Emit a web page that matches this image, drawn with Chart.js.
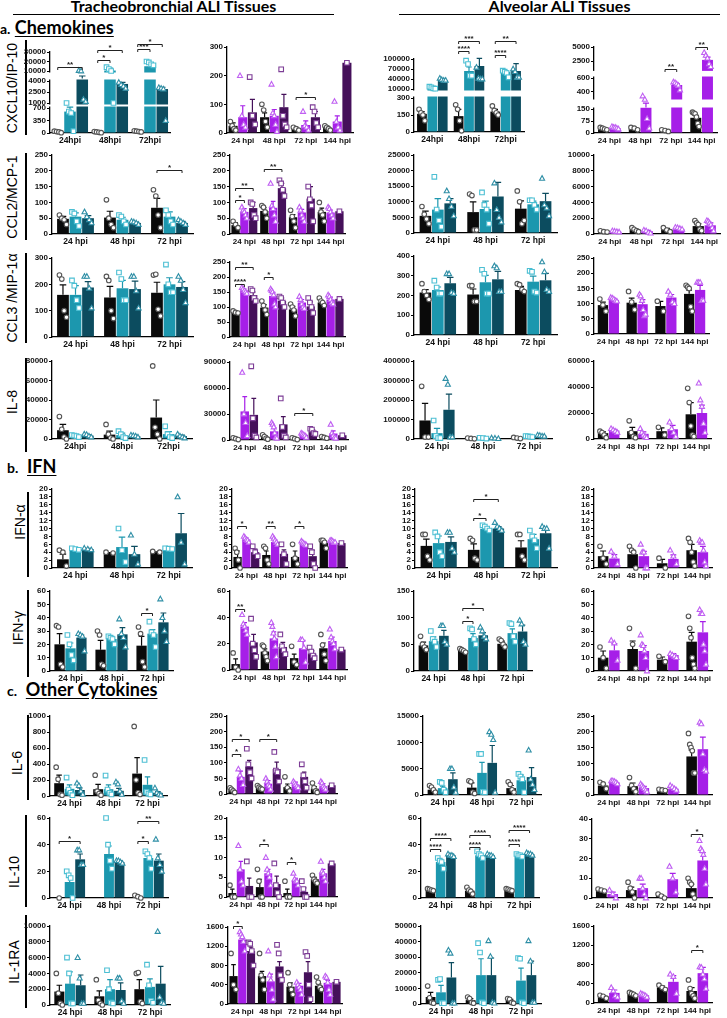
<!DOCTYPE html>
<html>
<head>
<meta charset="utf-8">
<script src="https://cdn.jsdelivr.net/npm/chart.js@4.4.0/dist/chart.umd.min.js"></script>
<style>
  body { margin: 0; background: #fff; width: 727px; height: 1018px; position: relative; overflow: hidden; }
  canvas { position: absolute; }
  .ttl { position: absolute; font: bold 16px Lato, "Liberation Sans", sans-serif; text-align: center; line-height: 16px; border-bottom: 1.5px solid #000; }
  .sec { position: absolute; font: bold 18px Lato, "Liberation Sans", sans-serif; line-height: 18px; white-space: nowrap; }
  .sec u { text-underline-offset: 2px; }
  .rowlab { position: absolute; width: 120px; height: 16px; line-height: 16px; text-align: center; font: 14px "Liberation Sans", Arial, sans-serif; transform: rotate(-90deg); white-space: nowrap; }
  .vline { position: absolute; width: 1.5px; background: #000; }
</style>
</head>
<body>
<div class="ttl" style="left:13px;top:-2px;width:321px">Tracheobronchial ALI Tissues</div>
<div class="ttl" style="left:399px;top:-2px;width:321px">Alveolar ALI Tissues</div>
<div class="sec" style="left:0px;top:18px"><span style="font-size:14px">a.</span> <u>Chemokines</u></div>
<div class="sec" style="left:7px;top:457px"><span style="font-size:14px">b.</span>&nbsp; <u>IFN</u></div>
<div class="sec" style="left:7px;top:680px"><span style="font-size:14px">c.</span>&nbsp; <u>Other Cytokines</u></div>

<script>
// ---- categories ----
const HPI3 = ['24 hpi', '48 hpi', '72 hpi'];
const HPI3_TIGHT = ['24hpi', '48hpi', '72hpi'];
const HPI4 = ['24 hpi', '48 hpi', '72 hpi', '144 hpi'];

// ---- CXCL10/IP-10 ----
const CXCL10_TB1_MEAN = [[30, 30, 40], [600, 10500, 15000], [5500, 3600, 2900]];
const CXCL10_TB1_SEM = [[10, 10, 10], [150, 2500, 2000], [1500, 200, 250]];
const CXCL10_TB1_PTS = [
  [[50, 40, 30, 10], [40, 30, 20, 10], [60, 50, 40, 30]],
  [[1000, 600, 560, 50], [14000, 12000, 10000, 1000], [20000, 19000, 17000, 16000]],
  [[10500, 10000, 1500, 1200], [3800, 3500, 3300, 3000], [3100, 3000, 2900, 350]]
];
const CXCL10_TB1_SIG = [[0, 0, 2, 14000, '**'], [1, 0, 1, 21600, '*'], [1, 0, 2, 32000, '*'], [2, 0, 1, 33000, '***'], [2, 0, 2, 38000, '*']];
const CXCL10_TB1_TICKS = [0, 350, 700, 1000, 2500, 4000, 10000, 20000, 30000];

const CXCL10_TB2_MEAN = [[25, 55, 15, 18], [55, 60, 28, 40], [72, 90, 55, 245]];
const CXCL10_TB2_SEM = [[10, 15, 5, 5], [40, 22, 14, 20], [45, 45, 20, 0]];
const CXCL10_TB2_PTS = [
  [[40, 25, 15, 10], [100, 80, 40, 20], [20, 15, 10], [25, 20, 15, 10]],
  [[200, 60, 30, 20], [170, 70, 60, 30, 5], [75, 25, 20, 10], [110, 40, 20, 10]],
  [[195, 60, 30], [222, 60, 30, 20], [90, 75, 35, 20], [245]]
];
const CXCL10_TB2_SIG = [[2, 0, 2, 125, '*']];

const CXCL10_AL1_MEAN = [[160, 140, 180], [11000, 64000, 61000], [37000, 79000, 64000]];
const CXCL10_AL1_SEM = [[20, 60, 20], [2000, 12000, 4000], [2000, 23000, 22000]];
const CXCL10_AL1_PTS = [
  [[200, 170, 150, 100], [240, 200, 100, 10], [230, 190, 170, 150]],
  [[17000, 15000, 12000, 11000], [95000, 85000, 50000, 50000], [65000, 62000, 58000, 45000]],
  [[42000, 38000, 36000, 36000], [75000, 42000, 40000, 40000], [70000, 62000, 45000, 45000]]
];
const CXCL10_AL1_SIG = [[1, 0, 1, 124000, '****'], [1, 0, 2, 154000, '***'], [2, 0, 1, 112000, '****'], [2, 0, 2, 154000, '**']];
const CXCL10_AL1_TICKS = [0, 150, 300, 10000, 40000, 70000, 100000];

const CXCL10_AL2_MEAN = [[25, 25, 15, 95], [30, 170, 495, 2700]];
const CXCL10_AL2_SEM = [[5, 5, 3, 15], [5, 60, 20, 500]];
const CXCL10_AL2_PTS = [
  [[35, 30, 25, 20], [35, 30, 20], [20, 15, 10], [130, 125, 120, 100, 60, 40]],
  [[40, 35, 35, 30, 25], [330, 280, 90, 30], [540, 530, 510, 490, 420], [4000, 3500, 3000, 2000, 1500]]
];
const CXCL10_AL2_SIG = [[2, 0, 1, 1050, '**'], [3, 0, 1, 5000, '**']];
const CXCL10_AL2_TICKS = [0, 75, 150, 400, 600, 2500, 5000];

// ---- CCL2/MCP-1 ----
const CCL2_TB1_MEAN = [[48, 52, 83], [55, 45, 55], [50, 35, 35]];
const CCL2_TB1_SEM = [[8, 20, 30], [12, 8, 15], [8, 3, 5]];
const CCL2_TB1_PTS = [
  [[60, 50, 45, 30], [108, 50, 30, 20], [140, 120, 60, 20]],
  [[70, 65, 40, 25], [60, 55, 40, 30], [75, 60, 40, 30]],
  [[70, 55, 45, 35], [40, 38, 35, 30], [45, 40, 35, 30]]
];
const CCL2_TB1_SIG = [[2, 0, 2, 203, '*']];

const CCL2_TB2_MEAN = [[28, 73, 53, 70], [70, 83, 68, 68], [82, 145, 112, 72]];
const CCL2_TB2_SEM = [[8, 10, 8, 12], [10, 20, 10, 8], [18, 15, 38, 0]];
const CCL2_TB2_PTS = [
  [[40, 30, 20], [90, 85, 70, 50], [75, 55, 40, 20], [100, 70, 60, 40]],
  [[85, 75, 70, 60, 50], [160, 90, 80, 60, 40], [85, 75, 60, 50, 40], [85, 80, 70, 60, 50]],
  [[100, 95, 60, 50], [170, 160, 140, 120], [150, 110, 90, 40], [72]]
];
const CCL2_TB2_SIG = [[0, 0, 1, 109, '*'], [0, 0, 2, 144, '**'], [1, 0, 2, 206, '**']];

const CCL2_AL1_MEAN = [[5500, 6700, 7800], [7500, 7700, 9200], [9500, 11700, 10200]];
const CCL2_AL1_SEM = [[1500, 3300, 2500], [3500, 2500, 1000], [1500, 4500, 2500]];
const CCL2_AL1_PTS = [
  [[8500, 6000, 4500, 3000], [12500, 12000, 1000, 1000], [13500, 10000, 3000, 4000]],
  [[18000, 7500, 4000, 2000], [13000, 9000, 7500, 3000], [10500, 10500, 9000, 7500]],
  [[13500, 11000, 8500, 5500], [16000, 7500, 5000, 3500], [17500, 9000, 8000, 5500]]
];

const CCL2_AL2_MEAN = [[300, 500, 550, 1000], [300, 350, 650, 1100]];
const CCL2_AL2_SEM = [[50, 150, 150, 300], [50, 100, 100, 300]];
const CCL2_AL2_PTS = [
  [[400, 300, 250], [800, 600, 400, 300], [800, 500, 300], [1700, 1400, 1200, 600, 400]],
  [[400, 350, 300, 250], [500, 400, 200, 100], [850, 800, 700, 600], [1700, 1600, 1400, 1200, 800, 400]]
];

// ---- CCL3/MIP-1a ----
const CCL3_TB1_MEAN = [[160, 150, 168], [160, 185, 200], [188, 182, 190]];
const CCL3_TB1_SEM = [[38, 42, 40], [35, 30, 25], [22, 30, 20]];
const CCL3_TB1_PTS = [
  [[235, 220, 100, 75], [230, 215, 100, 70], [235, 238, 105, 80]],
  [[215, 195, 140, 110], [245, 220, 140, 140], [275, 200, 170, 170]],
  [[230, 230, 185, 110], [230, 230, 175, 110], [230, 215, 180, 130]]
];

const CCL3_TB2_MEAN = [[82, 98, 92, 115], [155, 137, 115, 125], [140, 120, 102, 127]];
const CCL3_TB2_SEM = [[5, 10, 10, 5], [5, 12, 10, 8], [10, 10, 15, 0]];
const CCL3_TB2_PTS = [
  [[87, 82, 80], [120, 105, 90, 75], [110, 100, 90, 70], [130, 120, 115, 105]],
  [[165, 160, 155, 150, 145], [160, 155, 150, 140, 110, 100], [135, 125, 110, 100, 95], [140, 135, 125, 115, 110]],
  [[160, 155, 130, 120], [135, 130, 115, 100], [130, 115, 100, 80], [127]]
];
const CCL3_TB2_SIG = [[0, 0, 1, 177, '****'], [0, 0, 2, 233, '**'], [1, 0, 1, 200, '*']];

const CCL3_AL1_MEAN = [[215, 205, 228], [228, 267, 270], [262, 282, 277]];
const CCL3_AL1_SEM = [[15, 28, 18], [15, 35, 28], [30, 40, 35]];
const CCL3_AL1_PTS = [
  [[260, 220, 200, 180], [250, 250, 170, 170], [260, 255, 230, 220]],
  [[275, 240, 210, 210], [330, 310, 210, 210], [325, 320, 220, 215]],
  [[310, 310, 215, 210], [350, 340, 220, 220], [370, 320, 230, 220]]
];

const CCL3_AL2_MEAN = [[95, 103, 92, 132], [112, 98, 120, 145]];
const CCL3_AL2_SEM = [[10, 15, 15, 12], [4, 15, 10, 15]];
const CCL3_AL2_PTS = [
  [[115, 95, 75], [140, 105, 80], [108, 75], [160, 155, 150, 90, 75]],
  [[120, 118, 115, 110, 108], [130, 125, 110, 80, 60, 65], [140, 130, 105, 100], [170, 170, 170, 110, 110]]
];

// ---- IL-8 ----
const IL8_TB1_MEAN = [[9000, 4500, 22000], [3000, 4000, 5000], [3500, 3000, 3000]];
const IL8_TB1_SEM = [[6000, 3500, 18000], [800, 2000, 2500], [800, 1000, 1000]];
const IL8_TB1_PTS = [
  [[23000, 10000, 2000, 0], [15000, 5000, 1000, 0], [75000, 12000, 5000, 0]],
  [[4000, 3500, 3000, 2000], [8000, 5000, 2000, 1000], [13000, 5000, 2000, 1000]],
  [[5000, 4500, 3000, 2000], [4000, 3500, 3000, 2000], [5000, 3000, 2000, 1000]]
];

const IL8_TB2_MEAN = [[1500, 3500, 1500, 2500], [33000, 10000, 6000, 7500], [29000, 18000, 10000, 5500]];
const IL8_TB2_SEM = [[500, 1500, 500, 800], [17000, 4000, 1500, 3000], [19000, 9000, 2000, 0]];
const IL8_TB2_PTS = [
  [[2500, 1500, 500], [6000, 4000, 2000, 1000], [2500, 1500, 500], [4000, 3000, 2000]],
  [[78000, 30000, 20000, 5000], [20000, 18000, 15000, 8000, 3000, 2000], [8000, 7000, 6000, 5000, 3000], [18000, 8000, 5000, 3000, 2000]],
  [[85000, 25000, 5000, 3000], [48000, 15000, 5000, 3000], [13000, 12000, 8000, 7000], [5500]]
];
const IL8_TB2_SIG = [[2, 0, 2, 31000, '*']];

const IL8_AL1_MEAN = [[95000, 3000, 5000], [30000, 3000, 13000], [150000, 3000, 17000]];
const IL8_AL1_SEM = [[88000, 1000, 1000], [25000, 1000, 3000], [80000, 1000, 3000]];
const IL8_AL1_PTS = [
  [[270000, 10000, 10000], [5000, 3000, 1000], [8000, 5000, 2000]],
  [[95000, 15000, 5000, 5000], [6000, 5000, 2000], [15000, 14000, 12000, 10000]],
  [[310000, 280000, 10000, 10000], [5000, 4000, 2000], [20000, 18000, 15000, 14000]]
];

const IL8_AL2_MEAN = [[4500, 6000, 6000, 19000], [6500, 4000, 7500, 20000]];
const IL8_AL2_SEM = [[1000, 3000, 2500, 9000], [1000, 1500, 3000, 6000]];
const IL8_AL2_PTS = [
  [[6000, 5000, 3000, 1000], [14000, 5000, 2000, 1000], [9000, 3000], [39000, 28000, 10000, 3000, 2000]],
  [[8000, 7000, 6000, 5000], [8000, 5000, 3000, 2000, 1000], [13000, 8000, 5000, 2000], [43000, 30000, 25000, 12000, 5000]]
];

// ---- IFN-alpha ----
const IFNA_TB1_MEAN = [[2.2, 3.8, 4], [4.7, 5.3, 4.9], [4.8, 3.5, 8.8]];
const IFNA_TB1_SEM = [[1.3, 0.1, 0.1], [0.2, 2.5, 0.1], [0.2, 2, 5]];
const IFNA_TB1_PTS = [
  [[4.5, 4, 0.5], [4, 3.8], [4.2, 4]],
  [[5, 4.8, 4.6], [10, 4.5, 1.5], [5, 4.9, 4.8]],
  [[5, 4.8, 4.6], [8.3, 3.5, 1], [18, 6.5, 1]]
];

const IFNA_TB2_MEAN = [[2.8, 3.3, 2.8, 6.5], [7.2, 6.6, 6.2, 6.7], [4, 3.6, 3, 6.3]];
const IFNA_TB2_SEM = [[1.5, 1, 1.5, 0.5], [0.4, 0.5, 0.3, 0.3], [0.8, 1, 1.5, 0]];
const IFNA_TB2_PTS = [
  [[5, 4, 2, 0], [5.5, 5, 2, 1], [6, 2.5, 1], [7, 7, 6.5, 5]],
  [[8, 7.6, 7.2, 7, 6.5], [8, 7.5, 7, 6.5, 6], [6.8, 6.5, 6.2, 6, 5.8], [7, 7, 6.8, 6.5, 6.5]],
  [[5.5, 4, 3], [6, 3.5, 1], [5.5, 4, 1, 0], [6.3]]
];
const IFNA_TB2_SIG = [[0, 0, 1, 10.6, '*'], [1, 0, 1, 10.6, '**'], [2, 0, 1, 10.6, '*']];

const IFNA_AL1_MEAN = [[5.6, 4.6, 5.2], [6.3, 9.9, 7.3], [6.6, 10, 8.8]];
const IFNA_AL1_SEM = [[1.7, 1.5, 1.7], [1.8, 0.5, 1.2], [1.3, 0.5, 1.2]];
const IFNA_AL1_PTS = [
  [[8.5, 8.5, 3, 2], [7.5, 7, 2.5, 2], [8.5, 8.5, 3, 2]],
  [[9, 8, 4, 3], [10.8, 10.5, 10, 9.5], [9.5, 8, 7, 5]],
  [[9, 9, 5, 4], [11.5, 10.5, 10, 9.5], [10.5, 10, 10, 5]]
];
const IFNA_AL1_SIG = [[1, 0, 1, 12.7, '*'], [1, 0, 2, 17.5, '*']];

const IFNA_AL2_MEAN = [[3, 3.5, 1.2, 4.5], [2.4, 3, 2.3, 4]];
const IFNA_AL2_SEM = [[1.3, 1, 1, 1.5], [1, 1.2, 1, 1.5]];
const IFNA_AL2_PTS = [
  [[5.5, 2.5, 1], [5.5, 4.5, 4, 0], [2.5, 0], [7.5, 6.5, 4, 1.5, 0.5]],
  [[4.2, 3, 1], [6, 4, 4, 0, 0], [4.5, 3, 1], [7, 6.5, 6.5, 4.5, 1.5, 0.5]]
];

// ---- IFN-gamma ----
const IFNG_TB1_MEAN = [[20, 16, 19], [17, 24, 28], [25, 27.5, 36.5]];
const IFNG_TB1_SEM = [[8, 7, 7], [4, 2, 3], [2, 5, 7]];
const IFNG_TB1_PTS = [
  [[34, 33, 5, 3], [30, 27, 5, 4], [33, 28, 7, 3]],
  [[27, 20, 12, 8], [26, 25, 24, 20], [37, 29, 27, 18]],
  [[28, 27, 26, 15], [39, 28, 25, 18], [54, 40, 30, 22]]
];
const IFNG_TB1_SIG = [[2, 0, 1, 43.5, '*']];

const IFNG_TB2_MEAN = [[4.5, 14, 9, 16.5], [33, 24, 16.5, 22], [21, 17.5, 12.5, 15.5]];
const IFNG_TB2_SEM = [[4, 2, 3, 4], [3, 5, 6, 3], [6, 3.5, 2, 0]];
const IFNG_TB2_PTS = [
  [[13, 2, 0], [19, 18, 13, 10, 7], [18, 6, 4], [27, 19, 12, 7]],
  [[42, 35, 33, 30, 27], [36, 33, 28, 24, 18, 10], [23, 23, 17, 6], [31, 25, 22, 20, 16]],
  [[39, 20, 15, 10], [27, 18, 15, 12], [17, 14, 11, 9], [15.5]]
];
const IFNG_TB2_SIG = [[0, 0, 1, 46, '**']];

const IFNG_AL1_MEAN = [[48, 38, 51], [56, 62, 71], [66, 67, 74]];
const IFNG_AL1_SEM = [[6, 2, 5], [8, 8, 8], [10, 5, 12]];
const IFNG_AL1_PTS = [
  [[65, 50, 45, 40], [42, 40, 38, 35], [60, 57, 50, 45]],
  [[75, 60, 55, 45], [80, 78, 60, 50], [90, 88, 65, 55]],
  [[85, 85, 55, 50], [82, 75, 65, 60], [95, 88, 55, 50]]
];
const IFNG_AL1_SIG = [[1, 0, 1, 94, '*'], [1, 0, 2, 118, '*']];

const IFNG_AL2_MEAN = [[10, 16.5, 8.5, 22], [15.5, 15, 12, 29]];
const IFNG_AL2_SEM = [[5, 6, 2, 7], [5, 4, 1, 8]];
const IFNG_AL2_PTS = [
  [[18, 10, 2], [32, 20, 2], [11, 7], [41, 32, 25, 10, 5, 2]],
  [[23, 21, 8], [27, 20, 19, 15, 10, 0], [13, 12, 11, 10], [46, 43, 43, 20, 15, 5]]
];

// ---- IL-6 ----
const IL6_TB1_MEAN = [[160, 85, 280], [90, 85, 140], [75, 65, 40]];
const IL6_TB1_SEM = [[100, 60, 200], [50, 55, 100], [25, 30, 15]];
const IL6_TB1_PTS = [
  [[360, 210, 20, 10], [260, 60, 30, 10], [870, 200, 40, 20]],
  [[230, 80, 40, 10], [255, 80, 40, 20], [450, 50, 30, 20]],
  [[160, 130, 60, 20], [175, 150, 60, 20], [100, 40, 20, 10]]
];

const IL6_TB2_MEAN = [[12, 20, 22, 17], [55, 33, 30, 25], [88, 80, 55, 28]];
const IL6_TB2_SEM = [[4, 4, 10, 7], [18, 10, 8, 8], [20, 22, 15, 0]];
const IL6_TB2_PTS = [
  [[20, 15, 10, 5], [27, 22, 18, 15], [55, 20, 10], [35, 20, 10, 5]],
  [[80, 60, 50, 30], [50, 40, 30, 25, 15], [40, 35, 30, 25, 20], [40, 35, 25, 20, 15]],
  [[145, 95, 70, 50], [135, 75, 70, 40], [95, 60, 40, 20], [28]]
];
const IL6_TB2_SIG = [[0, 0, 1, 128, '*'], [0, 0, 2, 176, '*'], [1, 0, 2, 176, '*']];

const IL6_AL1_MEAN = [[1000, 1400, 1300], [1300, 4200, 2800], [3000, 6100, 3400]];
const IL6_AL1_SEM = [[300, 900, 500], [400, 2000, 1000], [1200, 3300, 1800]];
const IL6_AL1_PTS = [
  [[1800, 1500, 1000, 500], [2700, 2500, 500, 300], [2500, 2000, 1000, 500]],
  [[2500, 2300, 1000, 500], [7800, 7800, 600, 500], [4000, 3500, 3000, 500]],
  [[5000, 5000, 1500, 500], [12000, 11500, 10500, 500], [8500, 3000, 2000, 1000]]
];

const IL6_AL2_MEAN = [[30, 28, 15, 122], [40, 22, 20, 145]];
const IL6_AL2_SEM = [[4, 10, 2, 20], [3, 5, 4, 38]];
const IL6_AL2_PTS = [
  [[40, 35, 20], [55, 30, 20, 10], [18, 16, 14], [195, 160, 150, 140, 70, 70]],
  [[45, 45, 43, 40, 35], [35, 30, 25, 20, 15, 10], [30, 25, 20, 15], [230, 225, 130, 80, 75]]
];

// ---- IL-10 ----
const IL10_TB1_MEAN = [[0, null, 1], [12, 33, 30], [29, 27, 28]];
const IL10_TB1_SEM = [[0, 0, 0.5], [4, 6, 2], [4, 1, 5]];
const IL10_TB1_PTS = [
  [[0], [], [2, 1, 0]],
  [[20, 17, 15, 0], [60, 40, 28, 22], [35, 33, 30, 22]],
  [[36, 36, 25, 25], [28, 28, 27, 26], [44, 30, 25, 20]]
];
const IL10_TB1_SIG = [[0, 0, 2, 43, '*'], [2, 0, 2, 58, '**'], [2, 0, 1, 43, '*']];

const IL10_TB2_MEAN = [[1, 2.5, 1, 4.5], [7, 6, 4.2, 6], [2.8, 3.3, 1.3, 8.5]];
const IL10_TB2_SEM = [[1, 2, 1, 0.5], [2, 1, 0.5, 1], [2, 2, 1, 0]];
const IL10_TB2_PTS = [
  [[3, 0, 0], [7, 4, 0, 0], [4, 0, 0], [5.5, 4.5, 4, 3.5]],
  [[13, 7, 4, 3], [10, 7, 6, 5, 3], [6, 4.5, 4, 4, 3], [9, 6.5, 6, 5, 4]],
  [[9, 0, 0], [8.5, 3, 1, 0], [4, 2, 0, 0], [8.5]]
];
const IL10_TB2_SIG = [[1, 0, 1, 13.4, '*'], [2, 0, 1, 8.9, '*']];

const IL10_AL1_MEAN = [[6, 5.5, 6], [27, 32, 32], [32, 32, 33]];
const IL10_AL1_SEM = [[0.5, 1, 0.5], [2, 1, 0.5], [1, 0.5, 0.5]];
const IL10_AL1_PTS = [
  [[7, 6.5, 6, 5.5], [8, 6, 5, 3], [7, 6.5, 6, 5.5]],
  [[30, 28, 27, 22], [35, 33, 32, 30], [33, 32, 32, 31]],
  [[33, 32, 32, 31], [33, 32, 32, 31], [34, 33, 33, 32]]
];
const IL10_AL1_SIG = [[0, 0, 1, 37, '****'], [0, 0, 2, 45, '****'], [1, 0, 1, 38, '****'], [1, 0, 2, 47, '****'], [2, 0, 1, 40.5, '****'], [2, 0, 2, 51, '****']];

const IL10_AL2_MEAN = [[4, 4, 1, 5], [2, 5, 9.5, 19]];
const IL10_AL2_SEM = [[0.3, 1.5, 0.5, 2], [1, 2, 3, 4]];
const IL10_AL2_PTS = [
  [[4.5, 4, 3.5], [8, 5, 3, 0], [2, 1, 0], [10, 8, 7, 2, 0]],
  [[4, 2, 0], [10, 10, 5, 2, 0], [16, 10, 3], [29, 25, 24, 22, 15, 7]]
];
const IL10_AL2_SIG = [[3, 0, 1, 32.4, '*']];

// ---- IL-1RA ----
const IL1RA_TB1_MEAN = [[1700, 1100, 2000], [2700, 2000, 2300], [2500, 1900, 2700]];
const IL1RA_TB1_SEM = [[800, 700, 1200], [1500, 1200, 1000], [1300, 900, 2200]];
const IL1RA_TB1_PTS = [
  [[4000, 1500, 200, 0], [3200, 600, 200, 0], [4000, 4100, 400, 200]],
  [[6000, 4000, 200, 200], [4400, 2000, 300, 200], [5100, 2500, 500, 300]],
  [[6000, 3400, 200, 200], [3400, 3400, 500, 200], [9300, 1000, 300, 200]]
];

const IL1RA_TB2_MEAN = [[580, 580, 360, 380], [1340, 470, 380, 440], [1100, 780, 660, 460]];
const IL1RA_TB2_SEM = [[240, 100, 80, 40], [40, 150, 50, 50], [80, 100, 220, 0]];
const IL1RA_TB2_PTS = [
  [[1050, 400, 300], [1050, 600, 500, 300], [650, 400, 300, 200], [560, 450, 350, 300]],
  [[1500, 1450, 1400, 1300, 1100], [1100, 600, 500, 300, 100], [450, 400, 350, 300, 200], [580, 550, 450, 300, 200]],
  [[1280, 1250, 1100, 800], [1230, 1050, 600, 500], [1080, 1000, 400, 100], [460]]
];
const IL1RA_TB2_SIG = [[0, 0, 1, 1620, '*']];

const IL1RA_AL1_MEAN = [[4500, 2500, 2000], [7500, 18500, 15000], [17000, 18500, 18500]];
const IL1RA_AL1_SEM = [[3000, 1000, 1000], [4500, 10500, 8000], [9500, 11000, 9000]];
const IL1RA_AL1_PTS = [
  [[11500, 4000, 1000, 500], [4500, 3500, 1000, 500], [3500, 3000, 1000, 500]],
  [[15500, 16000, 500, 500], [39000, 33000, 1000, 500], [29500, 29000, 1000, 500]],
  [[34500, 32500, 500, 500], [40500, 30500, 1000, 500], [40500, 27500, 1000, 1000]]
];

const IL1RA_AL2_MEAN = [[130, 180, 320, 250], [210, 160, 440, 620]];
const IL1RA_AL2_SEM = [[20, 20, 30, 70], [60, 20, 130, 120]];
const IL1RA_AL2_PTS = [
  [[160, 140, 100], [220, 200, 180, 150], [370, 320, 280], [480, 300, 200, 150, 100]],
  [[320, 250, 150, 120], [200, 180, 170, 150, 120], [600, 550, 200], [750, 740, 600, 500, 300]]
];
const IL1RA_AL2_SIG = [[3, 0, 1, 1100, '*']];

// ---- look ----
const STYLE = {
  mock:  { name: 'Mock', color: '#0a0a0a', edge: '#555555', shape: 'circle' },
  tealA: { name: 'Virus 1', color: '#1c97ae', edge: '#4cbfd3', shape: 'rect' },
  tealB: { name: 'Virus 2', color: '#0c4c5f', edge: '#2f8fa6', shape: 'triangle' },
  purA:  { name: 'Virus 1', color: '#a61fe8', edge: '#c060f2', shape: 'triangle' },
  purB:  { name: 'Virus 2', color: '#45105a', edge: '#7d3d96', shape: 'rect' }
};
const SETS = [
  [STYLE.mock, STYLE.tealA, STYLE.tealB],
  [STYLE.mock, STYLE.purA, STYLE.purB],
  [STYLE.mock, STYLE.tealA, STYLE.tealB],
  [STYLE.mock, STYLE.purA]
];
const CAT_PCT = [0.8, 0.92, 0.78, 0.76];

// plot frame of each panel: [y-axis x, x-axis right end] and [top tick y, zero y]
const FRAME_X = [
  [[50, 170], [227, 353], [414, 524], [594, 717]],
  [[52, 193], [230, 345], [414, 557], [594, 720]],
  [[52, 193], [230, 345], [414, 557], [594, 709]],
  [[52, 192], [230, 348], [414, 552], [594, 711]],
  [[52, 192], [232, 347], [415, 557], [594, 712]],
  [[50, 173], [230, 347], [414, 532], [594, 712]],
  [[50, 167], [227, 337], [423, 541], [594, 712]],
  [[50, 168], [227, 337], [421, 539], [592, 712]],
  [[50, 170], [228, 342], [421, 541], [594, 712]]
];
const FRAME_Y = [
  [[52, 133], [47, 133], [59, 132], [47, 133]],
  [[155, 234], [155, 234], [155, 233], [155, 234]],
  [[258, 337], [262, 337], [256, 335], [258, 334]],
  [[361, 439], [362, 440], [361, 439], [361, 439]],
  [[489, 568], [489, 568], [489, 568], [489, 568]],
  [[591, 671], [591, 670], [591, 671], [591, 671]],
  [[716, 796], [716, 794], [716, 795], [716, 795]],
  [[818, 898], [818, 897], [818, 898], [819, 898]],
  [[926, 1005], [927, 1004], [926, 1004], [926, 1003]]
];
// broken axes: [value from, value to, pixel offset from, pixel offset to]
const BROKEN_TB1 = { segs: [[0, 700, 0, 25], [1000, 4000, 30, 52], [10000, 30000, 62, 81]], ticks: CXCL10_TB1_TICKS };
const BROKEN_AL1 = { segs: [[0, 300, 0, 34], [10000, 100000, 43, 73]], ticks: CXCL10_AL1_TICKS };
const BROKEN_AL2 = { segs: [[0, 150, 0, 24], [300, 600, 35, 55], [1000, 5000, 63.6, 86]], ticks: CXCL10_AL2_TICKS };

const ROW_LABELS = [
  ['CXCL10/IP-10', 12, 88, 40, 135],
  ['CCL2/MCP-1', 12, 197, 153, 240],
  ['CCL3 /MIP-1α', 12, 298, 253, 343],
  ['IL-8', 12, 402, 358, 452],
  ['IFN-α', 20, 522, 492, 577],
  ['IFN-γ', 18, 628, 590, 677],
  ['IL-6', 17, 763, 715, 800],
  ['IL-10', 14, 872, 815, 907],
  ['IL-1RA', 14, 962, 915, 1008]
];

const AXW = 44, PADT = 28, PADR = 6, PADB = 4, XH = 17;
const TICK_FONT = { family: '"Liberation Sans", Arial, sans-serif', size: 8, weight: 'bold' };
const XLAB_FONT3 = { family: '"Liberation Sans", Arial, sans-serif', size: 8.5, weight: 'bold' };
const XLAB_FONT4 = { family: '"Liberation Sans", Arial, sans-serif', size: 8, weight: 'bold' };

function makeTf(segs) {
  return v => {
    const s0 = segs[0];
    if (v <= s0[1]) return s0[2] + (v - s0[0]) / (s0[1] - s0[0]) * (s0[3] - s0[2]);
    for (let i = 1; i < segs.length; i++) {
      const [a0, a1, b0, b1] = segs[i], prev = segs[i - 1];
      if (v < a0) return prev[3] + (v - prev[1]) / (a0 - prev[1]) * (b0 - prev[3]);
      if (v <= a1 || i === segs.length - 1) return b0 + (v - a0) / (a1 - a0) * (b1 - b0);
    }
  };
}

function drawMarker(ctx, st, x, y) {
  const r = 2.3;
  ctx.beginPath();
  if (st.shape === 'circle') ctx.arc(x, y, r, 0, Math.PI * 2);
  else if (st.shape === 'rect') ctx.rect(x - r, y - r, 2 * r, 2 * r);
  else { ctx.moveTo(x, y - r * 1.2); ctx.lineTo(x + r * 1.1, y + r * 0.8); ctx.lineTo(x - r * 1.1, y + r * 0.8); ctx.closePath(); }
  ctx.fillStyle = '#fff';
  ctx.fill();
  ctx.strokeStyle = st.edge;
  ctx.lineWidth = 1.1;
  ctx.stroke();
}

function extras(cfg) {
  return {
    id: 'extras',
    afterDatasetsDraw(chart) {
      const ctx = chart.ctx, ys = chart.scales.y, area = chart.chartArea;
      const py = v => ys.getPixelForValue(cfg.tf(v));
      ctx.save();
      if (cfg.segs) {
        ctx.fillStyle = '#fff';
        for (let i = 1; i < cfg.segs.length; i++) {
          const lo = ys.getPixelForValue(cfg.segs[i - 1][3]) - 1.5;
          const hi = ys.getPixelForValue(cfg.segs[i][2]) + 1.5;
          ctx.fillRect(area.left - 4, hi, area.right - area.left + 8, lo - hi);
        }
      }
      cfg.set.forEach((st, si) => {
        chart.getDatasetMeta(si).data.forEach((bar, gi) => {
          const m = cfg.mean[si][gi], s = cfg.sem[si][gi], w = bar.width;
          if (m != null && s > 0) {
            const y0 = py(m), y1 = py(m + s);
            ctx.strokeStyle = st.color;
            ctx.lineWidth = 1.2;
            ctx.beginPath();
            ctx.moveTo(bar.x, y0); ctx.lineTo(bar.x, y1);
            ctx.moveTo(bar.x - w * 0.28, y1); ctx.lineTo(bar.x + w * 0.28, y1);
            ctx.stroke();
          }
          const list = cfg.pts[si][gi] || [];
          list.forEach((v, k) => {
            const n = list.length;
            const x = bar.x + (n > 1 ? (k / (n - 1) - 0.5) * w * 0.6 : 0);
            drawMarker(ctx, st, x, py(v));
          });
        });
      });
      ctx.strokeStyle = '#222';
      ctx.fillStyle = '#222';
      ctx.lineWidth = 1;
      ctx.font = 'bold 8px "Liberation Sans", Arial, sans-serif';
      ctx.textAlign = 'center';
      ctx.textBaseline = 'bottom';
      (cfg.sig || []).forEach(([g, a, b, v, txt]) => {
        const xa = chart.getDatasetMeta(a).data[g].x, xb = chart.getDatasetMeta(b).data[g].x;
        const y = Math.round(py(v)) + 0.5;
        ctx.beginPath();
        ctx.moveTo(xa, y + 2.5); ctx.lineTo(xa, y); ctx.lineTo(xb, y); ctx.lineTo(xb, y + 2.5);
        ctx.stroke();
        ctx.fillText(txt, (xa + xb) / 2, y + 1);
      });
      ctx.restore();
    }
  };
}

function buildPanel(row, col, groups, mean, sem, pts, sig, axis) {
  const [ax, ex] = FRAME_X[row][col];
  const [ty, zy] = FRAME_Y[row][col];
  const set = SETS[col];
  const canvas = document.createElement('canvas');
  canvas.width = ex - ax + AXW + PADR;
  canvas.height = zy - ty + PADT + XH + PADB;
  canvas.style.left = (ax - AXW) + 'px';
  canvas.style.top = (ty - PADT) + 'px';
  document.body.appendChild(canvas);

  let tf = v => v, yMax, step, tickVals = null, tickLabels = null, segs = null;
  if (axis.segs) {
    segs = axis.segs;
    tf = makeTf(segs);
    yMax = segs[segs.length - 1][3];
    tickVals = axis.ticks.map(tf);
    tickLabels = axis.ticks.map(String);
  } else {
    [yMax, step] = axis;
  }
  const cat = (row === 0 && col === 0) ? 0.92 : (row === 0 && col === 2) ? 0.85 : CAT_PCT[col];

  new Chart(canvas, {
    type: 'bar',
    data: {
      labels: groups,
      datasets: set.map((st, i) => ({
        label: st.name,
        data: mean[i].map(v => v == null ? null : tf(v)),
        backgroundColor: st.color,
        borderWidth: 0,
        categoryPercentage: cat,
        barPercentage: 0.94
      }))
    },
    options: {
      responsive: false,
      animation: false,
      events: [],
      layout: { padding: { top: PADT, right: PADR, left: 0, bottom: PADB } },
      plugins: { legend: { display: false }, tooltip: { enabled: false } },
      scales: {
        x: {
          grid: { display: false, drawTicks: false },
          border: { display: true, color: '#000', width: 1.3 },
          ticks: { color: '#111', font: groups.length > 3 ? XLAB_FONT4 : XLAB_FONT3, padding: 3, maxRotation: 0, autoSkip: false },
          afterFit: s => { s.height = XH; }
        },
        y: {
          min: 0,
          max: yMax,
          grid: { display: true, drawOnChartArea: false, drawTicks: true, tickLength: 3, color: '#000', lineWidth: 1 },
          border: { display: true, color: '#000', width: 1.3 },
          ticks: {
            color: '#111', font: TICK_FONT, padding: 1, autoSkip: false,
            stepSize: step,
            callback: (v, i) => tickLabels ? tickLabels[i] : String(v)
          },
          afterBuildTicks: s => { if (tickVals) s.ticks = tickVals.map(v => ({ value: v })); },
          afterFit: s => { s.width = AXW; }
        }
      }
    },
    plugins: [extras({ set, mean, sem, pts, sig, tf, segs })]
  });
}

ROW_LABELS.forEach(([txt, cx, cy, y0, y1]) => {
  const d = document.createElement('div');
  d.className = 'rowlab';
  d.textContent = txt;
  d.style.left = (cx - 60) + 'px';
  d.style.top = (cy - 8) + 'px';
  document.body.appendChild(d);
  const l = document.createElement('div');
  l.className = 'vline';
  l.style.left = (cx < 16 ? 25 : 27) + 'px';
  l.style.top = y0 + 'px';
  l.style.height = (y1 - y0) + 'px';
  document.body.appendChild(l);
});

const PANELS = [
  [0, 0, HPI3_TIGHT, CXCL10_TB1_MEAN, CXCL10_TB1_SEM, CXCL10_TB1_PTS, CXCL10_TB1_SIG, BROKEN_TB1],
  [0, 1, HPI4, CXCL10_TB2_MEAN, CXCL10_TB2_SEM, CXCL10_TB2_PTS, CXCL10_TB2_SIG, [300, 100]],
  [0, 2, HPI3_TIGHT, CXCL10_AL1_MEAN, CXCL10_AL1_SEM, CXCL10_AL1_PTS, CXCL10_AL1_SIG, BROKEN_AL1],
  [0, 3, HPI4, CXCL10_AL2_MEAN, CXCL10_AL2_SEM, CXCL10_AL2_PTS, CXCL10_AL2_SIG, BROKEN_AL2],

  [1, 0, HPI3, CCL2_TB1_MEAN, CCL2_TB1_SEM, CCL2_TB1_PTS, CCL2_TB1_SIG, [250, 50]],
  [1, 1, HPI4, CCL2_TB2_MEAN, CCL2_TB2_SEM, CCL2_TB2_PTS, CCL2_TB2_SIG, [250, 50]],
  [1, 2, HPI3, CCL2_AL1_MEAN, CCL2_AL1_SEM, CCL2_AL1_PTS, [], [25000, 5000]],
  [1, 3, HPI4, CCL2_AL2_MEAN, CCL2_AL2_SEM, CCL2_AL2_PTS, [], [10000, 2000]],

  [2, 0, HPI3, CCL3_TB1_MEAN, CCL3_TB1_SEM, CCL3_TB1_PTS, [], [300, 100]],
  [2, 1, HPI4, CCL3_TB2_MEAN, CCL3_TB2_SEM, CCL3_TB2_PTS, CCL3_TB2_SIG, [250, 50]],
  [2, 2, HPI3, CCL3_AL1_MEAN, CCL3_AL1_SEM, CCL3_AL1_PTS, [], [400, 100]],
  [2, 3, HPI4, CCL3_AL2_MEAN, CCL3_AL2_SEM, CCL3_AL2_PTS, [], [250, 50]],

  [3, 0, HPI3_TIGHT, IL8_TB1_MEAN, IL8_TB1_SEM, IL8_TB1_PTS, [], [80000, 20000]],
  [3, 1, HPI4, IL8_TB2_MEAN, IL8_TB2_SEM, IL8_TB2_PTS, IL8_TB2_SIG, [90000, 30000]],
  [3, 2, HPI3, IL8_AL1_MEAN, IL8_AL1_SEM, IL8_AL1_PTS, [], [400000, 100000]],
  [3, 3, HPI4, IL8_AL2_MEAN, IL8_AL2_SEM, IL8_AL2_PTS, [], [60000, 20000]],

  [4, 0, HPI3, IFNA_TB1_MEAN, IFNA_TB1_SEM, IFNA_TB1_PTS, [], [20, 2]],
  [4, 1, HPI4, IFNA_TB2_MEAN, IFNA_TB2_SEM, IFNA_TB2_PTS, IFNA_TB2_SIG, [20, 2]],
  [4, 2, HPI3, IFNA_AL1_MEAN, IFNA_AL1_SEM, IFNA_AL1_PTS, IFNA_AL1_SIG, [20, 2]],
  [4, 3, HPI4, IFNA_AL2_MEAN, IFNA_AL2_SEM, IFNA_AL2_PTS, [], [20, 2]],

  [5, 0, HPI3, IFNG_TB1_MEAN, IFNG_TB1_SEM, IFNG_TB1_PTS, IFNG_TB1_SIG, [60, 10]],
  [5, 1, HPI4, IFNG_TB2_MEAN, IFNG_TB2_SEM, IFNG_TB2_PTS, IFNG_TB2_SIG, [60, 20]],
  [5, 2, HPI3, IFNG_AL1_MEAN, IFNG_AL1_SEM, IFNG_AL1_PTS, IFNG_AL1_SIG, [150, 50]],
  [5, 3, HPI4, IFNG_AL2_MEAN, IFNG_AL2_SEM, IFNG_AL2_PTS, [], [60, 10]],

  [6, 0, HPI3, IL6_TB1_MEAN, IL6_TB1_SEM, IL6_TB1_PTS, [], [1000, 200]],
  [6, 1, HPI4, IL6_TB2_MEAN, IL6_TB2_SEM, IL6_TB2_PTS, IL6_TB2_SIG, [250, 50]],
  [6, 2, HPI3, IL6_AL1_MEAN, IL6_AL1_SEM, IL6_AL1_PTS, [], [15000, 5000]],
  [6, 3, HPI4, IL6_AL2_MEAN, IL6_AL2_SEM, IL6_AL2_PTS, [], [250, 50]],

  [7, 0, HPI3, IL10_TB1_MEAN, IL10_TB1_SEM, IL10_TB1_PTS, IL10_TB1_SIG, [60, 20]],
  [7, 1, HPI4, IL10_TB2_MEAN, IL10_TB2_SEM, IL10_TB2_PTS, IL10_TB2_SIG, [20, 5]],
  [7, 2, HPI3, IL10_AL1_MEAN, IL10_AL1_SEM, IL10_AL1_PTS, IL10_AL1_SIG, [60, 20]],
  [7, 3, HPI4, IL10_AL2_MEAN, IL10_AL2_SEM, IL10_AL2_PTS, IL10_AL2_SIG, [40, 10]],

  [8, 0, HPI3, IL1RA_TB1_MEAN, IL1RA_TB1_SEM, IL1RA_TB1_PTS, [], [10000, 2000]],
  [8, 1, HPI4, IL1RA_TB2_MEAN, IL1RA_TB2_SEM, IL1RA_TB2_PTS, IL1RA_TB2_SIG, [1600, 400]],
  [8, 2, HPI3, IL1RA_AL1_MEAN, IL1RA_AL1_SEM, IL1RA_AL1_PTS, [], [50000, 10000]],
  [8, 3, HPI4, IL1RA_AL2_MEAN, IL1RA_AL2_SEM, IL1RA_AL2_PTS, IL1RA_AL2_SIG, [1600, 400]]
];

PANELS.forEach(p => buildPanel(...p));
</script>
</body>
</html>
